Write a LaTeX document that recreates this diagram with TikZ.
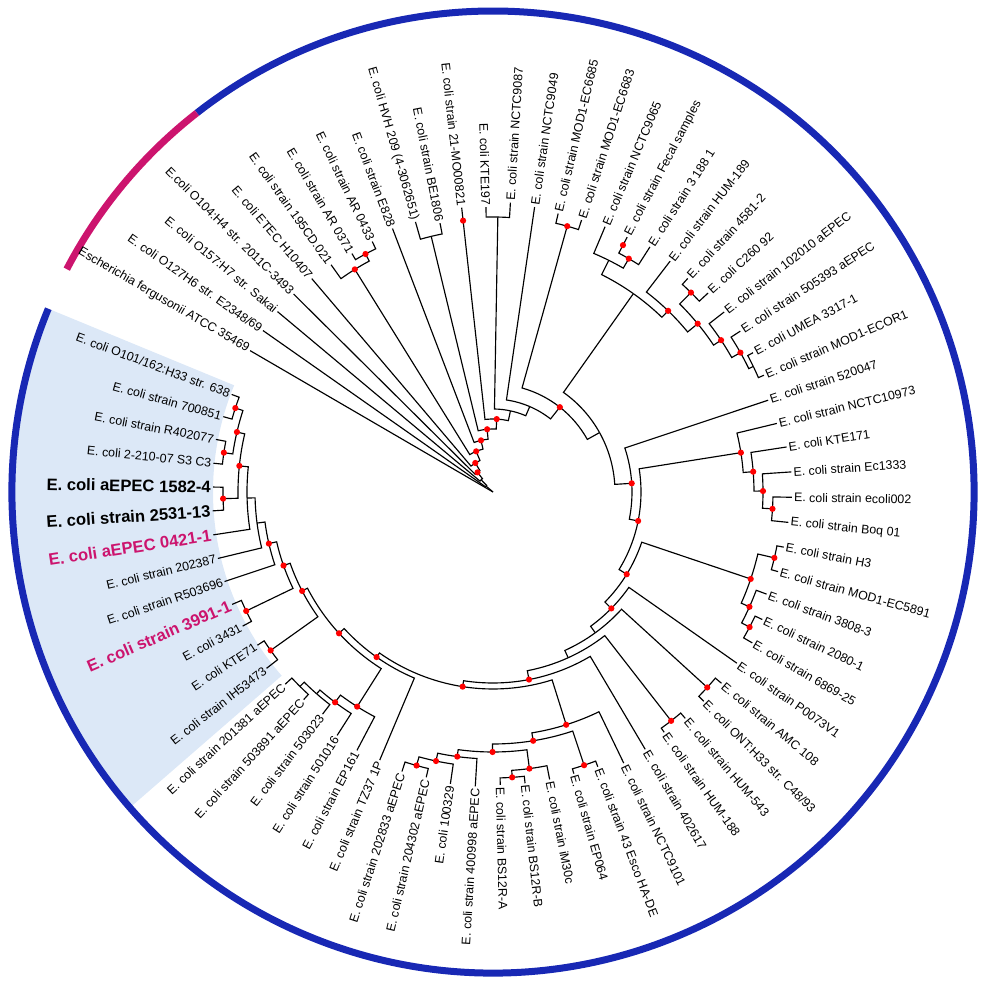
\documentclass[tikz,border=0pt]{standalone}
\usepackage{fontspec}
\setmainfont{Liberation Sans}
\usepackage{tikz}

\definecolor{ringblue}{RGB}{24,40,180}
\definecolor{ringmag}{RGB}{204,20,110}
\definecolor{cladebg}{RGB}{220,232,247}

% store angle and radius of a tree node, and name it
\newcommand{\setpt}[3]{%
  \expandafter\xdef\csname ang@#1\endcsname{#2}%
  \expandafter\xdef\csname rad@#1\endcsname{#3}%
  \coordinate (#1) at (#2:#3pt);}
% arc at the parent's radius, then out to the child
\newcommand{\branch}[2]{%
  \edef\bpa{\csname ang@#1\endcsname}%
  \edef\bca{\csname ang@#2\endcsname}%
  \edef\bpr{\csname rad@#1\endcsname}%
  \draw[branchline] (#1) arc[start angle=\bpa, end angle=\bca, radius=\bpr pt] -- (#2);}
\newcommand{\clade}[3]{\branch{#1}{#2}\branch{#1}{#3}}
% tip number, radius, label
\newcommand{\leaf}[4][]{%
  \pgfmathsetmacro\lfa{149.8-4.8649*(#2-1)}%
  \setpt{t#2}{\lfa}{#3}%
  \ifdim\lfa pt>90pt \def\lfflip{1}\else\ifdim\lfa pt<-90pt \def\lfflip{1}\else\def\lfflip{0}\fi\fi
  \ifnum\lfflip=1
    \node[lab,anchor=east,rotate=\lfa+180,#1] (l#2) at (t#2) {#4};%
  \else
    \node[lab,anchor=west,rotate=\lfa,#1] (l#2) at (t#2) {#4};%
  \fi}

\begin{document}
\begin{tikzpicture}[branchline/.style = {line width=1.15pt},
    lab/.style = {font=\fontsize{12.4}{14}\selectfont, inner sep=2pt},
    hilab/.style = {font=\bfseries\fontsize{16.6}{19}\selectfont},
    himag/.style = {hilab, text=ringmag},
    ndot/.style = {fill=red},
    ringline/.style = {line width=7pt}]
  \useasboundingbox (-493pt,-492pt) rectangle (489pt,492pt);

  % highlighted clade and outer ring
  \fill[cladebg] (157.6:280pt) arc[start angle=157.6, end angle=221, radius=280pt]
    -- (221:478pt) arc[start angle=221, end angle=157.6, radius=478pt] -- cycle;
  \draw[ringline, ringblue] (157.6:481pt) arc[start angle=157.6, end angle=488, radius=481pt];
  \draw[ringline, ringmag] (128:481pt) arc[start angle=128, end angle=152.4, radius=481pt];

  % backbone
  \setpt{root}{144.68}{0.5}
  \setpt{o1}{139.56}{9}
  \setpt{o2}{134.19}{17}
  \setpt{o3}{128.30}{25}
  \setpt{o4}{121.40}{34}
  \setpt{o5}{112.47}{44}
  \setpt{o6}{103.10}{53}
  \setpt{o7}{95.33}{63}
  \setpt{o8}{87.08}{73}
  \setpt{o9}{77.86}{83}
  \setpt{o10}{66.73}{93}
  \setpt{o11}{51.77}{108}
  \setpt{s2}{29.14}{122}
  \setpt{s3}{3.58}{139}
  \setpt{s4}{-11.29}{148}
  \setpt{s5}{-31.59}{157}
  \setpt{s6}{-44.53}{166}
  \setpt{s7}{-53.99}{174}
  \setpt{s8}{-65.61}{182}
  \setpt{s9}{-79.13}{191}
  \setpt{s10}{-98.86}{197}
  \setpt{s11}{-125.19}{202}
  \setpt{s12}{-137.46}{209}
  \setpt{s13}{-152.59}{215}
  % left clade
  \setpt{lc}{-160.65}{222}
  \setpt{q9}{-167.03}{230}
  \setpt{q8}{-172.50}{238}
  \setpt{q7}{-178.59}{246}
  \setpt{q6}{-185.88}{255}
  \setpt{q4}{-193.18}{263}
  \setpt{pO}{-198.05}{271}
  \setpt{pR}{-188.32}{272}
  \setpt{p15}{-178.59}{270}
  \setpt{p39}{-154.26}{274}
  \setpt{pK}{-144.53}{273}
  % lower left
  \setpt{bl}{-122.33}{254}
  \setpt{blx}{-126.90}{263}
  \setpt{bly}{-131.15}{268}
  \setpt{blz}{-134.80}{274}
  % bottom
  \setpt{g3}{-72.54}{244}
  \setpt{g4}{-80.83}{252}
  \setpt{pES}{-71.56}{288}
  \setpt{g12}{-90.10}{260}
  \setpt{g2}{-82.50}{279}
  \setpt{pBS}{-86.15}{286}
  \setpt{g1}{-97.70}{267}
  \setpt{g1a}{-101.96}{275}
  \setpt{pG}{-105.61}{284}
  \setpt{pAM}{-42.37}{290}
  \setpt{pHU}{-52.10}{290}
  % right
  \setpt{c3}{-18.65}{272}
  \setpt{pH3}{-13.18}{289}
  \setpt{c3b}{-24.12}{281}
  \setpt{c3c}{-27.77}{290}
  \setpt{c2}{9.02}{251}
  \setpt{c2a}{4.46}{261}
  \setpt{c2b}{0.20}{270}
  \setpt{c2c}{-3.45}{280}
  % top right
  \setpt{c1}{54.71}{243}
  \setpt{c1a}{63.45}{259}
  \setpt{c1b}{59.80}{270}
  \setpt{c1c}{45.97}{252}
  \setpt{c1d}{39.43}{265}
  \setpt{c1f}{45.21}{281}
  \setpt{c1e}{33.65}{274}
  \setpt{c1g}{29.39}{284}
  \setpt{c1h}{25.75}{289}
  % top left
  \setpt{cAR}{121.83}{262}
  \setpt{pAR}{118.18}{270}
  \setpt{cHV}{103.59}{263}
  \setpt{cKT}{88.99}{275}
  \setpt{cMD}{74.40}{276}
  \coordinate (m12) at (96.29:273pt);
  \coordinate (m19) at (62.23:279pt);

  % tips
  \leaf{1}{281}{Escherichia fergusonii ATCC 35469}
  \leaf{2}{281}{E. coli O127H6 str. E2348/69}
  \leaf{3}{281}{E. coli O157:H7 str. Sakai}
  \leaf{4}{281}{E.coli O104:H4 str. 2011C-3493}
  \leaf{5}{280}{E. coli ETEC H10407}
  \leaf{6}{279}{E. coli strain 195CD.021}
  \leaf{7}{277}{E. coli strain AR 0371}
  \leaf{8}{278}{E. coli strain AR 0433}
  \leaf{9}{282}{E. coli strain E828}
  \leaf{10}{281}{E. coli HVH 209 (4-3062651)}
  \leaf{11}{274}{E. coli strain BE1806}
  \leaf{12}{286}{E. coli strain 21-MO00821}
  \leaf{13}{285}{E. coli KTE197}
  \leaf{14}{290}{E. coli strain NCTC9087}
  \leaf{15}{288}{E. coli strain NCTC9049}
  \leaf{16}{286}{E. coli strain MOD1-EC6685}
  \leaf{17}{286}{E. coli strain MOD1-EC6683}
  \leaf{18}{288}{E. coli strain NCTC9065}
  \leaf{19}{288}{E. coli strain Fecal samples}
  \leaf{20}{291}{E. coli strain 3 188 1}
  \leaf{21}{291}{E. coli strain HUM-189}
  \leaf{22}{289}{E. coli strain 4581-2}
  \leaf{23}{293}{E. coli C260 92}
  \leaf{24}{293}{E. coli strain 102010 aEPEC}
  \leaf{25}{295}{E. coli strain 505393 aEPEC}
  \leaf{26}{295}{E. coli UMEA 3317-1}
  \leaf{27}{295}{E. coli strain MOD1-ECOR1}
  \leaf{28}{290}{E. coli strain 520047}
  \leaf{29}{292}{E. coli strain NCTC10973}
  \leaf{30}{297}{E. coli KTE171}
  \leaf{31}{299}{E. coli strain Ec1333}
  \leaf{32}{299}{E. coli strain ecoli002}
  \leaf{33}{297}{E. coli strain Boq 01}
  \leaf{34}{296}{E. coli strain H3}
  \leaf{35}{296}{E. coli strain MOD1-EC5891}
  \leaf{36}{292}{E. coli strain 3808-3}
  \leaf{37}{298}{E. coli strain 2080-1}
  \leaf{38}{300}{E. coli strain 6869-25}
  \leaf{39}{298}{E. coli strain P0073V1}
  \leaf{40}{298}{E. coli strain AMC 108}
  \leaf{41}{297}{E. coli ONT:H33 str. C48/93}
  \leaf{42}{297}{E. coli strain HUM-543}
  \leaf{43}{295}{E. coli strain HUM-188}
  \leaf{44}{299}{E. coli strain 402617}
  \leaf{45}{301}{E. coli strain NCTC9101}
  \leaf{46}{294}{E. coli strain 43 Esco HA-DE}
  \leaf{47}{293}{E. coli strain EP064}
  \leaf{48}{293}{E. coli strain iM30c}
  \leaf{49}{293}{E. coli strain BS12R-B}
  \leaf{50}{293}{E. coli strain BS12R-A}
  \leaf{51}{295}{E. coli strain 400998 aEPEC}
  \leaf{52}{295}{E. coli 100329}
  \leaf{53}{293}{E. coli strain 204302 aEPEC}
  \leaf{54}{294}{E. coli strain 202833 aEPEC}
  \leaf{55}{291}{E. coli strain TZ37 1P}
  \leaf{56}{292}{E. coli strain EP161}
  \leaf{57}{289}{E. coli strain 501016}
  \leaf{58}{280}{E. coli strain 503023}
  \leaf{59}{281}{E. coli strain 503891 aEPEC}
  \leaf{60}{283}{E. coli strain 201381 aEPEC}
  \leaf{61}{287}{E. coli strain IH53473}
  \leaf{62}{281}{E. coli KTE71}
  \leaf{63}{284}{E. coli 3431}
  \leaf[himag]{64}{284}{E. coli strain 3991-1}
  \leaf{65}{283}{E. coli strain R503696}
  \leaf{66}{283}{E. coli strain 202387}
  \leaf[himag]{67}{283}{E. coli aEPEC 0421-1}
  \leaf[hilab]{68}{281}{E. coli strain 2531-13}
  \leaf[hilab]{69}{280}{E. coli aEPEC 1582-4}
  \leaf{70}{281}{E. coli 2-210-07 S3 C3}
  \leaf{71}{282}{E. coli strain R402077}
  \leaf{72}{280}{E. coli strain 700851}
  \leaf{73}{279}{E. coli O101/162:H33 str. 638}

  % branches
  \clade{root}{t1}{o1}
  \clade{o1}{t2}{o2}
  \clade{o2}{t3}{o3}
  \clade{o3}{t4}{o4}
  \clade{o4}{t5}{o5}
  \clade{o5}{cAR}{o6}
  \clade{cAR}{t6}{pAR}
  \clade{pAR}{t7}{t8}
  \clade{o6}{t9}{o7}
  \clade{o7}{cHV}{o8}
  \clade{cHV}{t10}{t11}
  \clade{o8}{t12}{o9}
  \clade{o9}{cKT}{o10}
  \clade{cKT}{t13}{t14}
  \clade{o10}{t15}{o11}
  \clade{o11}{cMD}{s2}
  \clade{cMD}{t16}{t17}
  \clade{s2}{c1}{s3}
  \clade{c1}{c1a}{c1c}
  \clade{c1a}{t18}{c1b}
  \clade{c1b}{t19}{t20}
  \clade{c1c}{t21}{c1d}
  \clade{c1d}{c1f}{c1e}
  \clade{c1f}{t22}{t23}
  \clade{c1e}{t24}{c1g}
  \clade{c1g}{t25}{c1h}
  \clade{c1h}{t26}{t27}
  \clade{s3}{t28}{s4}
  \clade{s4}{c2}{s5}
  \clade{c2}{t29}{c2a}
  \clade{c2a}{t30}{c2b}
  \clade{c2b}{t31}{c2c}
  \clade{c2c}{t32}{t33}
  \clade{s5}{c3}{s6}
  \clade{c3}{pH3}{c3b}
  \clade{pH3}{t34}{t35}
  \clade{c3b}{t36}{c3c}
  \clade{c3c}{t37}{t38}
  \clade{s6}{t39}{s7}
  \clade{s7}{pAM}{s8}
  \clade{pAM}{t40}{t41}
  \clade{s8}{pHU}{s9}
  \clade{pHU}{t42}{t43}
  \clade{s9}{t44}{s10}
  \clade{s10}{g3}{s11}
  \clade{g3}{t45}{g4}
  \clade{g4}{pES}{g12}
  \clade{pES}{t46}{t47}
  \clade{g12}{g2}{g1}
  \clade{g2}{t48}{pBS}
  \clade{pBS}{t49}{t50}
  \clade{g1}{g1a}{t51}
  \clade{g1a}{pG}{t52}
  \clade{pG}{t53}{t54}
  \clade{s11}{t55}{s12}
  \clade{s12}{bl}{s13}
  \clade{bl}{blx}{t56}
  \clade{blx}{bly}{t57}
  \clade{bly}{blz}{t58}
  \clade{blz}{t59}{t60}
  \clade{s13}{lc}{pK}
  \clade{pK}{t62}{t61}
  \clade{lc}{q9}{p39}
  \clade{p39}{t64}{t63}
  \clade{q9}{t65}{q8}
  \clade{q8}{t66}{q7}
  \clade{q7}{t67}{q6}
  \clade{q6}{q4}{p15}
  \clade{q4}{pO}{pR}
  \clade{pO}{t73}{t72}
  \clade{pR}{t71}{t70}
  \clade{p15}{t69}{t68}

  % supported nodes
  \fill[ndot] (o3) circle[radius=3.1pt] (o4) circle[radius=3.1pt] (o5) circle[radius=3.1pt]
    (o6) circle[radius=3.1pt] (o7) circle[radius=3.1pt] (o8) circle[radius=3.1pt]
    (o11) circle[radius=3.1pt] (cAR) circle[radius=3.1pt] (pAR) circle[radius=3.1pt]
    (cMD) circle[radius=3.1pt] (m12) circle[radius=3.1pt] (m19) circle[radius=3.1pt]
    (c1b) circle[radius=3.1pt] (c1c) circle[radius=3.1pt] (c1d) circle[radius=3.1pt]
    (c1f) circle[radius=3.1pt] (c1e) circle[radius=3.1pt] (c1g) circle[radius=3.1pt]
    (s3) circle[radius=3.1pt] (s4) circle[radius=3.1pt] (s5) circle[radius=3.1pt]
    (s6) circle[radius=3.1pt] (s9) circle[radius=3.1pt] (s10) circle[radius=3.1pt]
    (s11) circle[radius=3.1pt] (s12) circle[radius=3.1pt] (s13) circle[radius=3.1pt]
    (c2) circle[radius=3.1pt] (c2a) circle[radius=3.1pt] (c2b) circle[radius=3.1pt]
    (c2c) circle[radius=3.1pt] (c3) circle[radius=3.1pt] (pH3) circle[radius=3.1pt]
    (c3b) circle[radius=3.1pt] (c3c) circle[radius=3.1pt] (pAM) circle[radius=3.1pt]
    (pHU) circle[radius=3.1pt] (g3) circle[radius=3.1pt] (g4) circle[radius=3.1pt]
    (pES) circle[radius=3.1pt] (g12) circle[radius=3.1pt] (g2) circle[radius=3.1pt]
    (pBS) circle[radius=3.1pt] (g1) circle[radius=3.1pt] (g1a) circle[radius=3.1pt]
    (pG) circle[radius=3.1pt] (bl) circle[radius=3.1pt] (blx) circle[radius=3.1pt]
    (pK) circle[radius=3.1pt] (lc) circle[radius=3.1pt] (p39) circle[radius=3.1pt]
    (q9) circle[radius=3.1pt] (q6) circle[radius=3.1pt] (q4) circle[radius=3.1pt]
    (pO) circle[radius=3.1pt] (pR) circle[radius=3.1pt] (p15) circle[radius=3.1pt];
\end{tikzpicture}
\end{document}
